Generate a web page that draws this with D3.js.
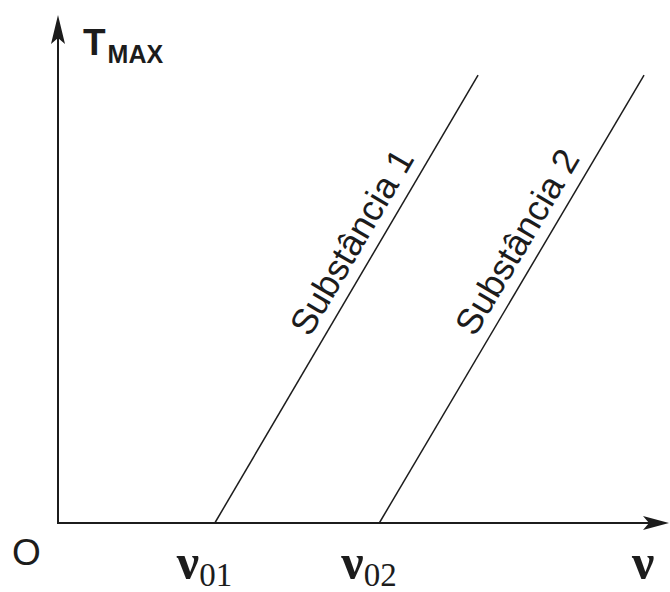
<!DOCTYPE html>
<html>
<head>
<meta charset="utf-8">
<script src="https://cdn.jsdelivr.net/npm/d3@7"></script>
<style>
  html, body { margin: 0; padding: 0; background: #fff; }
  svg { display: block; }
</style>
</head>
<body>
<svg id="chart" width="670" height="592"></svg>
<script>
// Threshold frequencies and line end points (arbitrary units)
const substances = ["Substância 1", "Substância 2"];
const thresholds = [3.08, 6.31];     // ν0 where T_MAX = 0
const topFreq = [8.25, 11.51];       // ν at the upper end of each line
const topEnergy = 10.58;             // T_MAX at the upper end of each line
const xTickLabels = [
  { base: "ν", sub: "01", value: 3.08 },
  { base: "ν", sub: "02", value: 6.31 }
];

const svg = d3.select("#chart");
const x = d3.scaleLinear().domain([0, 12]).range([58, 669]);
const y = d3.scaleLinear().domain([0, 12]).range([523, 15]);

const ink = "#1c1c1c";
const sans = "Liberation Sans, Arial, sans-serif";
const serif = "Liberation Serif, Times New Roman, serif";

// axes
svg.append("line")
  .attr("x1", x(0)).attr("y1", y(0)).attr("x2", x(0)).attr("y2", y(12) + 20)
  .attr("stroke", ink).attr("stroke-width", 2);
svg.append("line")
  .attr("x1", x(0) - 1).attr("y1", y(0)).attr("x2", x(12) - 18).attr("y2", y(0))
  .attr("stroke", ink).attr("stroke-width", 2);

// arrow heads
const yTip = [x(0), y(12)];
svg.append("path")
  .attr("d", `M${yTip[0]},${yTip[1]} L${yTip[0] - 7},${yTip[1] + 29} L${yTip[0]},${yTip[1] + 23} L${yTip[0] + 7},${yTip[1] + 29} Z`)
  .attr("fill", ink);
const xTip = [x(12), y(0)];
svg.append("path")
  .attr("d", `M${xTip[0]},${xTip[1]} L${xTip[0] - 26},${xTip[1] - 7} L${xTip[0] - 20},${xTip[1]} L${xTip[0] - 26},${xTip[1] + 7} Z`)
  .attr("fill", ink);

// substance lines with labels running along them
const lineGen = d3.line().x(d => x(d[0])).y(d => y(d[1]));
substances.forEach((name, i) => {
  const pts = [[thresholds[i], 0], [topFreq[i], topEnergy]];
  svg.append("path")
    .attr("d", lineGen(pts))
    .attr("fill", "none")
    .attr("stroke", ink)
    .attr("stroke-width", 1.5);

  const dx = x(topFreq[i]) - x(thresholds[i]);
  const dy = y(topEnergy) - y(0);
  const angle = Math.atan2(dy, dx) * 180 / Math.PI;
  const t = 0.6;
  const cx = x(thresholds[i] + t * (topFreq[i] - thresholds[i]));
  const cy = y(t * topEnergy);
  svg.append("text")
    .attr("transform", `translate(${cx},${cy}) rotate(${angle}) translate(0,-12)`)
    .attr("text-anchor", "middle")
    .attr("font-family", sans)
    .attr("font-size", 36)
    .attr("fill", ink)
    .text(name);
});

// y axis title
const yTitle = svg.append("text")
  .attr("x", 83).attr("y", 55)
  .attr("font-family", sans)
  .attr("font-weight", "bold")
  .attr("fill", ink);
yTitle.append("tspan").attr("font-size", 37).text("T");
yTitle.append("tspan").attr("font-size", 25).attr("dx", 2).attr("dy", 8).text("MAX");

// origin
svg.append("text")
  .attr("x", 12).attr("y", 565)
  .attr("font-family", sans)
  .attr("font-size", 37)
  .attr("fill", ink)
  .text("O");

// frequency tick labels
xTickLabels.forEach(d => {
  const t = svg.append("text")
    .attr("x", x(d.value) - 38).attr("y", 579)
    .attr("font-family", serif)
    .attr("fill", ink);
  t.append("tspan").attr("font-size", 50).attr("font-weight", "bold").text(d.base);
  t.append("tspan").attr("font-size", 33).attr("dy", 7).text(d.sub);
});

// x axis title
svg.append("text")
  .attr("x", 632).attr("y", 579)
  .attr("font-family", serif)
  .attr("font-size", 50)
  .attr("font-weight", "bold")
  .attr("fill", ink)
  .text("ν");
</script>
</body>
</html>
